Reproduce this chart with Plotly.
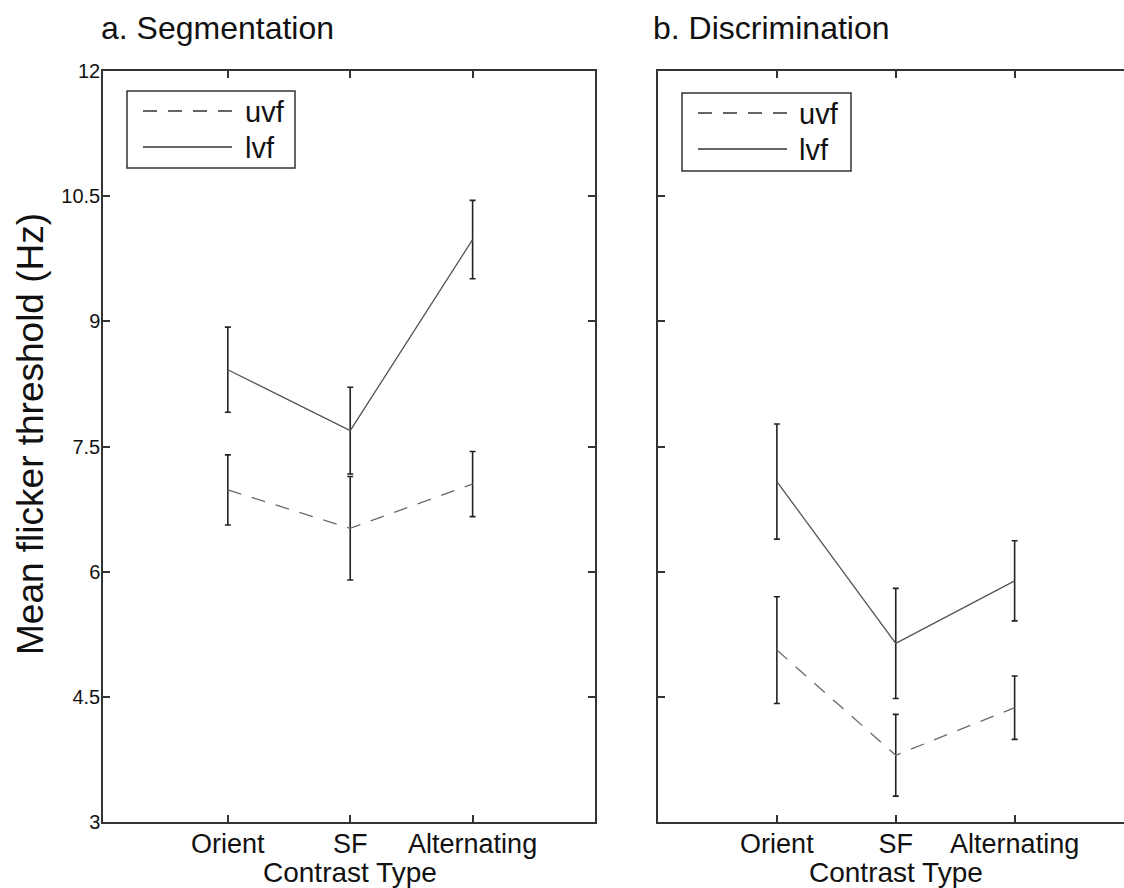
import plotly.graph_objects as go

# ---- data -------------------------------------------------------------
categories = ["Orient", "SF", "Alternating"]
series_names = ["uvf", "lvf"]

seg_uvf = [6.98, 6.52, 7.05]
seg_uvf_err = [0.42, 0.62, 0.39]
seg_lvf = [8.42, 7.69, 9.98]
seg_lvf_err = [0.51, 0.52, 0.47]

dis_uvf = [5.06, 3.80, 4.37]
dis_uvf_err = [0.64, 0.49, 0.38]
dis_lvf = [7.08, 5.14, 5.89]
dis_lvf_err = [0.69, 0.66, 0.48]

y_ticks = [3, 4.5, 6, 7.5, 9, 10.5, 12]
panel_titles = ["a. Segmentation", "b. Discrimination"]
x_title = "Contrast Type"
y_title = "Mean flicker threshold (Hz)"

# ---- layout constants --------------------------------------------------
W, H = 1124, 888
FONT = "Liberation Sans, Arial, sans-serif"
AXIS_COL = "#333333"
DASH = "14px,11px"


def px(x):
    return x / W


def py(y):
    return 1 - y / H


fig = go.Figure()

panels = [
    ("x", "y", seg_uvf, seg_uvf_err, seg_lvf, seg_lvf_err),
    ("x2", "y2", dis_uvf, dis_uvf_err, dis_lvf, dis_lvf_err),
]

for xa, ya, u, ue, l, le in panels:
    fig.add_trace(go.Scatter(
        x=categories, y=u, xaxis=xa, yaxis=ya, mode="lines",
        name=series_names[0], showlegend=False,
        line=dict(color="#6a6a6a", width=1.3, dash=DASH),
        error_y=dict(type="data", array=ue, color="#222222", thickness=1.6, width=3),
    ))
    fig.add_trace(go.Scatter(
        x=categories, y=l, xaxis=xa, yaxis=ya, mode="lines",
        name=series_names[1], showlegend=False,
        line=dict(color="#555555", width=1.3),
        error_y=dict(type="data", array=le, color="#222222", thickness=1.6, width=3),
    ))

y_dom = [py(822), py(71)]

common_x = dict(
    type="category", tickmode="array", tickvals=categories, ticktext=categories,
    ticks="inside", ticklen=7, tickcolor=AXIS_COL, tickwidth=1.5,
    showline=True, linecolor=AXIS_COL, linewidth=1.5,
    mirror="allticks", showgrid=False, zeroline=False, automargin=False,
    ticklabelstandoff=-3,
    tickfont=dict(family=FONT, size=27, color="#111111"),
)
common_y = dict(
    range=[3, 12], tickmode="array", tickvals=y_ticks,
    ticktext=[f"{v:g}" for v in y_ticks],
    ticks="inside", ticklen=7, tickcolor=AXIS_COL, tickwidth=1.5,
    showline=True, linecolor=AXIS_COL, linewidth=1.5,
    showgrid=False, zeroline=False, domain=y_dom, automargin=False,
    tickfont=dict(family=FONT, size=20, color="#111111"),
)

fig.update_layout(
    width=W, height=H,
    margin=dict(l=0, r=0, t=0, b=0, pad=0, autoexpand=False),
    paper_bgcolor="white", plot_bgcolor="white",
    font=dict(family=FONT, color="#111111"),
    showlegend=False,
    xaxis=dict(common_x, domain=[px(103), px(595)], range=[-1.02, 3.0], anchor="y"),
    yaxis=dict(common_y, anchor="x", mirror="allticks", ticklabelstandoff=-3),
    xaxis2=dict(common_x, domain=[px(658), 1.0], range=[-1.0, 2.92], anchor="y2"),
    yaxis2=dict(common_y, anchor="x2", mirror=False, showticklabels=False),
)

annotations = []
shapes = []

# panel titles
for title, x0 in zip(panel_titles, [99, 651]):
    annotations.append(dict(
        text=title, xref="paper", yref="paper", x=px(x0), y=py(28),
        xanchor="left", yanchor="middle", showarrow=False,
        font=dict(family=FONT, size=32, color="#111111"),
    ))

# x-axis titles, centred under the middle category
for xa in ["x", "x2"]:
    annotations.append(dict(
        text=x_title, xref=xa, yref="paper", x=categories[1], y=py(872),
        xanchor="center", yanchor="middle", showarrow=False,
        font=dict(family=FONT, size=28, color="#111111"),
    ))

# shared y-axis title
annotations.append(dict(
    text=y_title, xref="paper", yref="paper", x=px(30), y=py(434),
    xanchor="center", yanchor="middle", textangle=-90, showarrow=False,
    font=dict(family=FONT, size=37, color="#111111"),
))

# legend boxes: (box x0, x1, y0, y1, line x0, x1, uvf y, lvf y, text x)
legend_boxes = [
    (127, 295, 91, 168, 143, 232, 111, 147, 243),
    (682, 851, 93, 171, 698, 787, 113, 149, 797),
]
for bx0, bx1, by0, by1, lx0, lx1, uy, ly, tx in legend_boxes:
    shapes.append(dict(
        type="rect", xref="paper", yref="paper",
        x0=px(bx0), x1=px(bx1), y0=py(by1), y1=py(by0),
        line=dict(color="#333333", width=1.5), fillcolor="white",
    ))
    for name, yy, dash in [(series_names[0], uy, DASH), (series_names[1], ly, "solid")]:
        shapes.append(dict(
            type="line", xref="paper", yref="paper",
            x0=px(lx0), x1=px(lx1), y0=py(yy), y1=py(yy),
            line=dict(color="#333333", width=1.3, dash=dash),
        ))
        annotations.append(dict(
            text=name, xref="paper", yref="paper", x=px(tx), y=py(yy + 1),
            xanchor="left", yanchor="middle", showarrow=False,
            font=dict(family=FONT, size=29, color="#111111"),
        ))

fig.update_layout(annotations=annotations, shapes=shapes)

fig.write_html("out.html")
